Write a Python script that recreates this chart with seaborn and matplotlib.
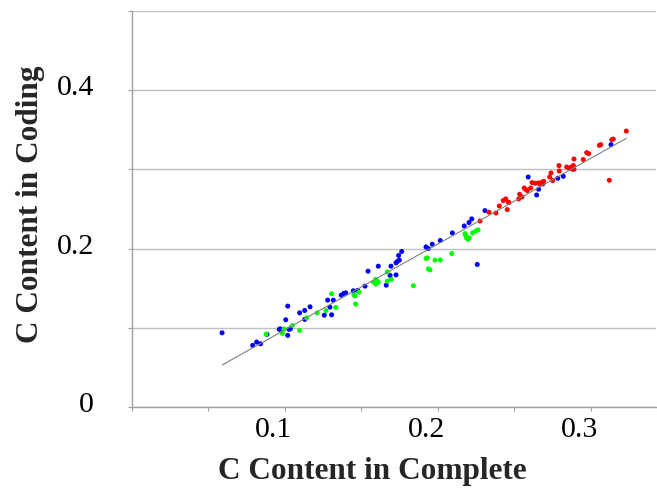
import numpy as np
import pandas as pd
import seaborn as sns
import matplotlib.pyplot as plt
from matplotlib.transforms import ScaledTranslation

# ---------------------------------------------------------------
# Data
# ---------------------------------------------------------------
blue_complete = [0.0592, 0.0792, 0.0818, 0.0844, 0.0886, 0.0966, 0.0971, 0.1029,
                 0.1038, 0.1021, 0.1008, 0.1021, 0.1099, 0.1132, 0.1132, 0.1167,
                 0.1260, 0.1308, 0.1297, 0.1282, 0.1319, 0.1371, 0.1387, 0.1400,
                 0.1450, 0.1478, 0.1526, 0.1546, 0.1613, 0.1665, 0.1690, 0.1729,
                 0.1696, 0.1729, 0.1737, 0.1750, 0.1746, 0.1766, 0.1925, 0.1940,
                 0.1966, 0.2018, 0.2097, 0.2175, 0.2206, 0.2224, 0.2260, 0.2310,
                 0.2593, 0.2648, 0.2661, 0.2688, 0.2786, 0.2822, 0.3134]
blue_coding = [0.0937, 0.0778, 0.0820, 0.0798, 0.0917, 0.0980, 0.0987, 0.0980,
               0.0987, 0.0904, 0.1101, 0.1274, 0.1189, 0.1219, 0.1106, 0.1265,
               0.1160, 0.1164, 0.1261, 0.1349, 0.1349, 0.1412, 0.1434, 0.1441,
               0.1467, 0.1472, 0.1526, 0.1715, 0.1778, 0.1538, 0.1661, 0.1668,
               0.1778, 0.1820, 0.1837, 0.1854, 0.1913, 0.1963, 0.2021, 0.2001,
               0.2055, 0.2102, 0.2198, 0.2286, 0.2329, 0.2375, 0.1800, 0.2480,
               0.2904, 0.2677, 0.2749, 0.2816, 0.2888, 0.2913, 0.3313]

green_complete = [0.0880, 0.0986, 0.0997, 0.1051, 0.1099, 0.1145, 0.1214, 0.1271,
                  0.1335, 0.1308, 0.1454, 0.1461, 0.1487, 0.1465, 0.1582, 0.1596,
                  0.1607, 0.1596, 0.1613, 0.1672, 0.1698, 0.1672, 0.1842, 0.1925,
                  0.1933, 0.1984, 0.2018, 0.1940, 0.1951, 0.2093, 0.2180, 0.2186,
                  0.2191, 0.2201, 0.2208, 0.2230, 0.2250, 0.2265]
green_coding = [0.0920, 0.0929, 0.0984, 0.1030, 0.0967, 0.1126, 0.1189, 0.1217,
                0.1257, 0.1429, 0.1416, 0.1404, 0.1450, 0.1299, 0.1576, 0.1610,
                0.1589, 0.1551, 0.1576, 0.1706, 0.1610, 0.1589, 0.1532, 0.1875,
                0.1883, 0.1854, 0.1857, 0.1744, 0.1731, 0.1938, 0.2190, 0.2160,
                0.2131, 0.2119, 0.2135, 0.2198, 0.2223, 0.2236]

red_complete = [0.2278, 0.2337, 0.2382, 0.2404, 0.2430, 0.2446, 0.2463, 0.2467,
                0.2456, 0.2531, 0.2537, 0.2552, 0.2567, 0.2578, 0.2587, 0.2609,
                0.2618, 0.2639, 0.2659, 0.2670, 0.2683, 0.2694, 0.2753, 0.2733,
                0.2742, 0.2796, 0.2794, 0.2844, 0.2858, 0.2875, 0.2888, 0.2892,
                0.2879, 0.2892, 0.2953, 0.2975, 0.2988, 0.3058, 0.3067, 0.3139,
                0.3149, 0.3234, 0.3123]
red_coding = [0.2349, 0.2459, 0.2450, 0.2538, 0.2607, 0.2627, 0.2585, 0.2581,
              0.2493, 0.2627, 0.2686, 0.2652, 0.2765, 0.2745, 0.2733, 0.2765,
              0.2834, 0.2825, 0.2829, 0.2812, 0.2837, 0.2850, 0.2859, 0.2904,
              0.2955, 0.2980, 0.3048, 0.3030, 0.3018, 0.3030, 0.3048, 0.3001,
              0.3005, 0.3131, 0.3124, 0.3212, 0.3199, 0.3304, 0.3313, 0.3376,
              0.3383, 0.3484, 0.2863]

x_ticks = [0.0, 0.05, 0.1, 0.15, 0.2, 0.25, 0.3]
x_tick_labels = ["", "", "0.1", "", "0.2", "", "0.3"]
y_ticks = [0.0, 0.1, 0.2, 0.3, 0.4, 0.5]
y_tick_labels = ["0", "", "0.2", "", "0.4", ""]

df = pd.concat([
    pd.DataFrame({"complete": blue_complete, "coding": blue_coding, "group": "blue"}),
    pd.DataFrame({"complete": green_complete, "coding": green_coding, "group": "green"}),
    pd.DataFrame({"complete": red_complete, "coding": red_coding, "group": "red"}),
], ignore_index=True)

# ---------------------------------------------------------------
# Style
# ---------------------------------------------------------------
sns.set_style("white")
plt.rcParams["font.family"] = ["Liberation Serif", "DejaVu Serif"]

AXIS_GRAY = "#a0a0a0"
GRID_GRAY = "#c0c0c0"

fig = plt.figure(figsize=(6.57, 4.91), dpi=100)
ax = fig.add_axes([131.5 / 657, 1 - 407 / 491, (656 - 131.5) / 657, (407 - 11) / 491])

sns.scatterplot(
    data=df, x="complete", y="coding", hue="group",
    palette={"blue": "#0000ff", "green": "#00ff00", "red": "#ff0000"},
    s=13, linewidth=0, legend=False, ax=ax, zorder=3,
)
# trend line fitted over all points
sns.regplot(
    data=df, x="complete", y="coding", scatter=False, ci=None,
    line_kws={"color": "#808080", "lw": 0.8, "zorder": 4}, ax=ax,
)

ax.set_xlim(0, (656 - 131.5) / 1530)
ax.set_ylim(0, 0.5)
ax.set_xticks(x_ticks)
ax.set_xticklabels(x_tick_labels)
ax.set_yticks(y_ticks)
ax.set_yticklabels(y_tick_labels)

ax.yaxis.grid(True, color=GRID_GRAY, lw=1)
ax.xaxis.grid(False)
for side in ["top", "right"]:
    ax.spines[side].set_visible(False)
for side in ["left", "bottom"]:
    ax.spines[side].set_color(AXIS_GRAY)
    ax.spines[side].set_linewidth(1)

ax.tick_params(axis="both", direction="out", length=3, width=0.8,
               color=AXIS_GRAY, labelsize=21.5, labelcolor="black")
ax.tick_params(axis="x", pad=4)
ax.tick_params(axis="y", pad=24)
ax.tick_params(bottom=True, left=True)

# labels in the reference sit a little left / up of their ticks
for lbl in ax.get_xticklabels():
    lbl.set_transform(lbl.get_transform() + ScaledTranslation(-11 / 100, 0, fig.dpi_scale_trans))
for lbl in ax.get_yticklabels():
    lbl.set_transform(lbl.get_transform() + ScaledTranslation(0, 5 / 100, fig.dpi_scale_trans))

ax.set_xlabel("C Content in Complete", fontsize=22.5, fontweight="bold")
ax.set_ylabel("C Content in Coding", fontsize=22.5, fontweight="bold")
ax.xaxis.set_label_coords(0.4595, -0.125)
ax.yaxis.set_label_coords(-0.165, 0.5126)

fig.savefig("out.png", dpi=100)
plt.close(fig)
